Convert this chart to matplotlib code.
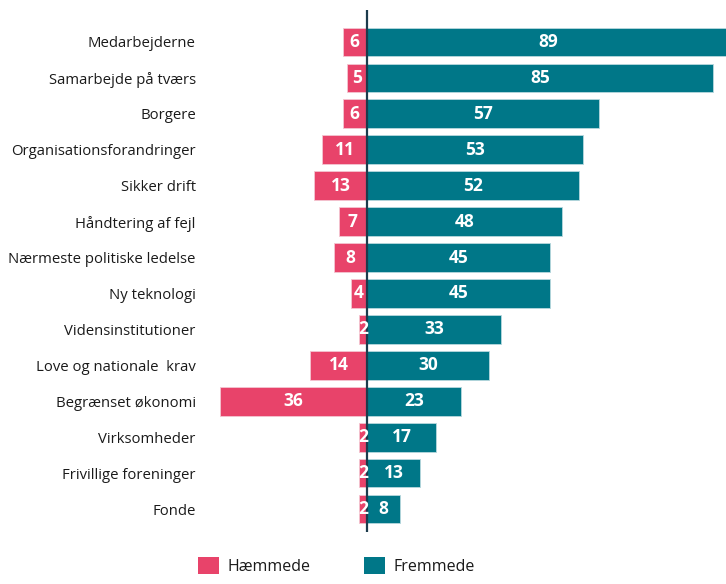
import matplotlib
matplotlib.use("Agg")
import matplotlib.pyplot as plt
from matplotlib.patches import Patch

categories = ["Medarbejderne", "Samarbejde på tværs", "Borgere", "Organisationsforandringer",
              "Sikker drift", "Håndtering af fejl", "Nærmeste politiske ledelse", "Ny teknologi",
              "Vidensinstitutioner", "Love og nationale  krav", "Begrænset økonomi",
              "Virksomheder", "Frivillige foreninger", "Fonde"]
haemmede = [6, 5, 6, 11, 13, 7, 8, 4, 2, 14, 36, 2, 2, 2]
fremmede = [89, 85, 57, 53, 52, 48, 45, 45, 33, 30, 23, 17, 13, 8]
legend_labels = ["Hæmmede", "Fremmede"]

PINK = "#E8436A"
TEAL = "#007788"
plt.rcParams['font.family'] = ['Open Sans', 'DejaVu Sans']

W, H = 726, 584
fig = plt.figure(figsize=(W / 100, H / 100), dpi=100)
ax_left, ax_right = 200, 726
ax_top, ax_bot = 10, 532
ax = fig.add_axes([ax_left / W, 1 - ax_bot / H, (ax_right - ax_left) / W, (ax_bot - ax_top) / H])

px_per_unit = 4.07
x0 = 367
ax.set_xlim((ax_left - x0) / px_per_unit, (ax_right - x0) / px_per_unit)
ax.set_ylim(13.64, -0.89)

y = list(range(len(categories)))
neg = [-v for v in haemmede]
ax.barh(y, neg, height=0.8, color=PINK, edgecolor="#f3c6d1", linewidth=0.6)
ax.barh(y, fremmede, height=0.8, color=TEAL, edgecolor="#b8d8de", linewidth=0.6)
ax.axvline(0, color="#1c3b4c", linewidth=1.6)

for i in y:
    ax.text(neg[i] / 2, i, str(haemmede[i]), ha="center", va="center", color="white",
            fontsize=12.5, fontweight="bold")
    ax.text(fremmede[i] / 2, i, str(fremmede[i]), ha="center", va="center", color="white",
            fontsize=12.5, fontweight="bold")

ax.set_yticks(y)
ax.set_yticklabels(categories, fontsize=10.7, color="#1a1a1a")
ax.tick_params(axis="y", length=0, pad=3)
ax.set_xticks([])
for s in ax.spines.values():
    s.set_visible(False)

handles = [Patch(facecolor=PINK, label=legend_labels[0]), Patch(facecolor=TEAL, label=legend_labels[1])]
fig.legend(handles=handles, loc="lower left", bbox_to_anchor=(184 / W, -5 / H), ncol=2,
           frameon=False, fontsize=11.5, handlelength=1.3, handleheight=1.3, columnspacing=3.4,
           handletextpad=0.5, labelcolor="#1a1a1a")

fig.savefig("out.png", dpi=100)
